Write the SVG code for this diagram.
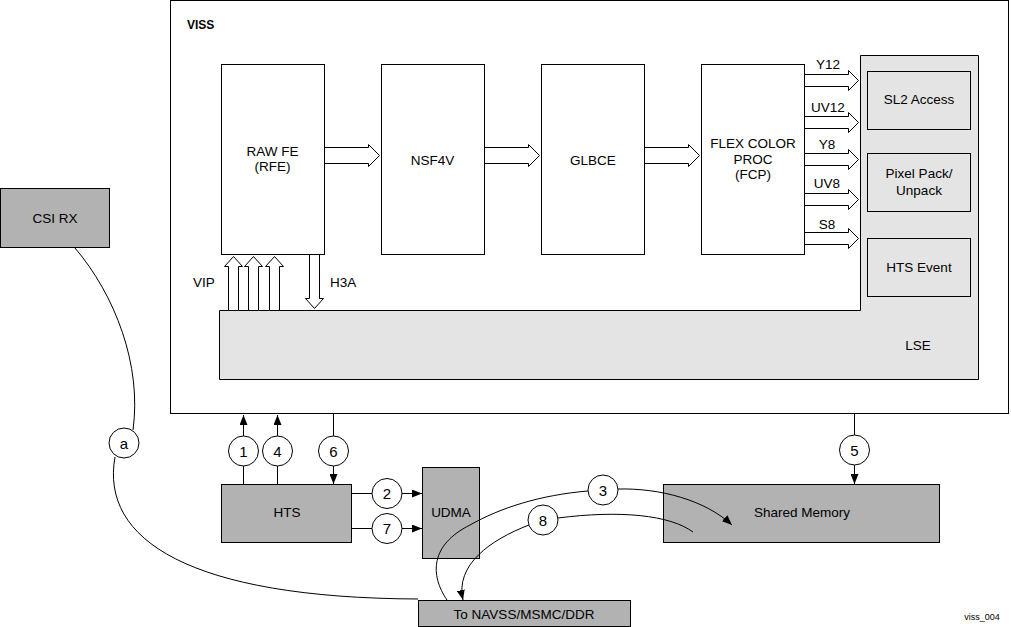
<svg xmlns="http://www.w3.org/2000/svg" width="1011" height="627" viewBox="0 0 1011 627">
<defs>
<marker id="ah" markerWidth="10" markerHeight="8" refX="10" refY="4" orient="auto" markerUnits="userSpaceOnUse">
<path d="M0,0 L10,4 L0,8 Z" fill="#000"/>
</marker>
<style>
text{font-family:"Liberation Sans",Arial,sans-serif;font-size:13.5px;fill:#000;text-anchor:middle}
.box{fill:#fff;stroke:#000;stroke-width:1}
.lt{fill:#e4e4e4;stroke:#000;stroke-width:1}
.dk{fill:#b2b2b2;stroke:#000;stroke-width:1}
.ba{fill:#fff;stroke:#000;stroke-width:1}
.ln{fill:none;stroke:#000;stroke-width:1}
.cir{fill:#fff;stroke:#000;stroke-width:1}
.num{font-size:15px}
</style>
</defs>
<rect width="1011" height="627" fill="#fff"/>
<g id="viss">
<rect class="box" x="170.5" y="0.5" width="838" height="413"/>
<text x="187" y="29" style="font-weight:bold;font-size:12px;text-anchor:start">VISS</text>
</g>
<g id="lse">
<polygon class="lt" points="860.5,55.5 978.5,55.5 978.5,379.5 219.5,379.5 219.5,310.5 860.5,310.5"/>
<text x="918" y="350">LSE</text>
</g>
<g id="sl2">
<rect class="lt" x="867.5" y="71.5" width="103" height="58"/>
<text x="919" y="104">SL2 Access</text>
</g>
<g id="pixelpack">
<rect class="lt" x="867.5" y="153.5" width="103" height="58"/>
<text x="919" y="178">Pixel Pack/</text>
<text x="919" y="195">Unpack</text>
</g>
<g id="htsevent">
<rect class="lt" x="867.5" y="238.5" width="103" height="58"/>
<text x="919" y="272">HTS Event</text>
</g>
<g id="rfe">
<rect class="box" x="221.5" y="64.5" width="103" height="190"/>
<text x="272.5" y="156">RAW FE</text>
<text x="272.5" y="171">(RFE)</text>
</g>
<g id="nsf4v">
<rect class="box" x="381.5" y="64.5" width="103" height="190"/>
<text x="432.5" y="165">NSF4V</text>
</g>
<g id="glbce">
<rect class="box" x="541.5" y="64.5" width="103" height="190"/>
<text x="593" y="165">GLBCE</text>
</g>
<g id="fcp">
<rect class="box" x="701.5" y="64.5" width="103" height="190"/>
<text x="753" y="148">FLEX COLOR</text>
<text x="753" y="164">PROC</text>
<text x="753" y="179">(FCP)</text>
</g>
<g id="csirx">
<rect class="dk" x="0.5" y="188.5" width="109" height="59"/>
<text x="55" y="223">CSI RX</text>
</g>
<g id="hts">
<rect class="dk" x="221.5" y="484.5" width="130" height="58"/>
<text x="287" y="517">HTS</text>
</g>
<g id="udma">
<rect class="dk" x="422.5" y="467.5" width="57" height="91"/>
<text x="451" y="517">UDMA</text>
</g>
<g id="sharedmem">
<rect class="dk" x="663.5" y="484.5" width="276" height="58"/>
<text x="802" y="517">Shared Memory</text>
</g>
<g id="navss">
<rect class="dk" x="418.5" y="600.5" width="212" height="26"/>
<text x="524" y="619">To NAVSS/MSMC/DDR</text>
</g>
<g id="connectors">
<!-- block arrows in pipeline -->
<polygon class="ba" points="324.5,147.5 368.5,147.5 368.5,144.5 379.5,155.5 368.5,166.5 368.5,163.5 324.5,163.5"/>
<polygon class="ba" points="484.5,147.5 528.5,147.5 528.5,144.5 539.5,155.5 528.5,166.5 528.5,163.5 484.5,163.5"/>
<polygon class="ba" points="644.5,147.5 688.5,147.5 688.5,144.5 699.5,155.5 688.5,166.5 688.5,163.5 644.5,163.5"/>
<!-- FCP outputs -->
<polygon class="ba" points="804.5,74.5 848.5,74.5 848.5,70.5 858.5,80.5 848.5,90.5 848.5,86.5 804.5,86.5"/>
<polygon class="ba" points="804.5,116.5 848.5,116.5 848.5,112.5 858.5,122.5 848.5,132.5 848.5,128.5 804.5,128.5"/>
<polygon class="ba" points="804.5,153.5 848.5,153.5 848.5,149.5 858.5,159.5 848.5,169.5 848.5,165.5 804.5,165.5"/>
<polygon class="ba" points="804.5,193.5 848.5,193.5 848.5,189.5 858.5,199.5 848.5,209.5 848.5,205.5 804.5,205.5"/>
<polygon class="ba" points="804.5,232.5 848.5,232.5 848.5,228.5 858.5,238.5 848.5,248.5 848.5,244.5 804.5,244.5"/>
<text x="828" y="69">Y12</text>
<text x="828" y="112">UV12</text>
<text x="827" y="149">Y8</text>
<text x="827" y="188">UV8</text>
<text x="827" y="229">S8</text>
<!-- VIP arrows -->
<polygon class="ba" points="228.5,310.5 228.5,266.5 224.5,266.5 233.5,256.5 242.5,266.5 238.5,266.5 238.5,310.5"/>
<polygon class="ba" points="248.5,310.5 248.5,266.5 244.5,266.5 253.5,256.5 262.5,266.5 258.5,266.5 258.5,310.5"/>
<polygon class="ba" points="269.5,310.5 269.5,266.5 265.5,266.5 274.5,256.5 283.5,266.5 279.5,266.5 279.5,310.5"/>
<text x="204" y="287">VIP</text>
<!-- H3A arrow -->
<polygon class="ba" points="309.5,254.5 309.5,298.5 305.5,298.5 314.5,308.5 323.5,298.5 319.5,298.5 319.5,254.5"/>
<text x="330" y="287" style="text-anchor:start">H3A</text>
<!-- 1 -->
<line class="ln" x1="243.5" y1="484" x2="243.5" y2="415" marker-end="url(#ah)"/>
<circle class="cir" cx="243.5" cy="451" r="15"/>
<text class="num" x="243.5" y="457">1</text>
<!-- 4 -->
<line class="ln" x1="277.5" y1="484" x2="277.5" y2="415" marker-end="url(#ah)"/>
<circle class="cir" cx="277.5" cy="451" r="15"/>
<text class="num" x="277.5" y="457">4</text>
<!-- 6 -->
<line class="ln" x1="333.5" y1="414" x2="333.5" y2="484" marker-end="url(#ah)"/>
<circle class="cir" cx="333.5" cy="451" r="15"/>
<text class="num" x="333.5" y="457">6</text>
<!-- 5 -->
<line class="ln" x1="854.5" y1="414" x2="854.5" y2="484" marker-end="url(#ah)"/>
<circle class="cir" cx="854.5" cy="450" r="15"/>
<text class="num" x="854.5" y="456">5</text>
<!-- 2 -->
<line class="ln" x1="352" y1="493.5" x2="422" y2="493.5" marker-end="url(#ah)"/>
<circle class="cir" cx="387" cy="493.5" r="15"/>
<text class="num" x="387" y="499">2</text>
<!-- 7 -->
<line class="ln" x1="352" y1="528.5" x2="422" y2="528.5" marker-end="url(#ah)"/>
<circle class="cir" cx="387" cy="528.5" r="15"/>
<text class="num" x="387" y="534">7</text>
<!-- a -->
<path class="ln" d="M75,248 C115,295 142,365 133,430"/>
<path class="ln" d="M115,457 C100,540 190,598 418,599"/>
<circle class="cir" cx="124" cy="443" r="15"/>
<text class="num" x="124" y="449">a</text>
<!-- 3 -->
<path class="ln" d="M447,600 C430,575 430,545 470,525 C500,508 540,495 588,491"/>
<path class="ln" d="M618,489 C660,488 705,500 732,525" marker-end="url(#ah)"/>
<circle class="cir" cx="603" cy="490" r="15"/>
<text class="num" x="603" y="496">3</text>
<!-- 8 -->
<path class="ln" d="M693,532 C670,515 620,510 558,518"/>
<path class="ln" d="M529,525 C490,540 455,565 463,600" marker-end="url(#ah)"/>
<circle class="cir" cx="543" cy="520" r="15"/>
<text class="num" x="543" y="526">8</text>
</g>
<text x="982" y="620" style="font-size:9px">viss_004</text>
</svg>
